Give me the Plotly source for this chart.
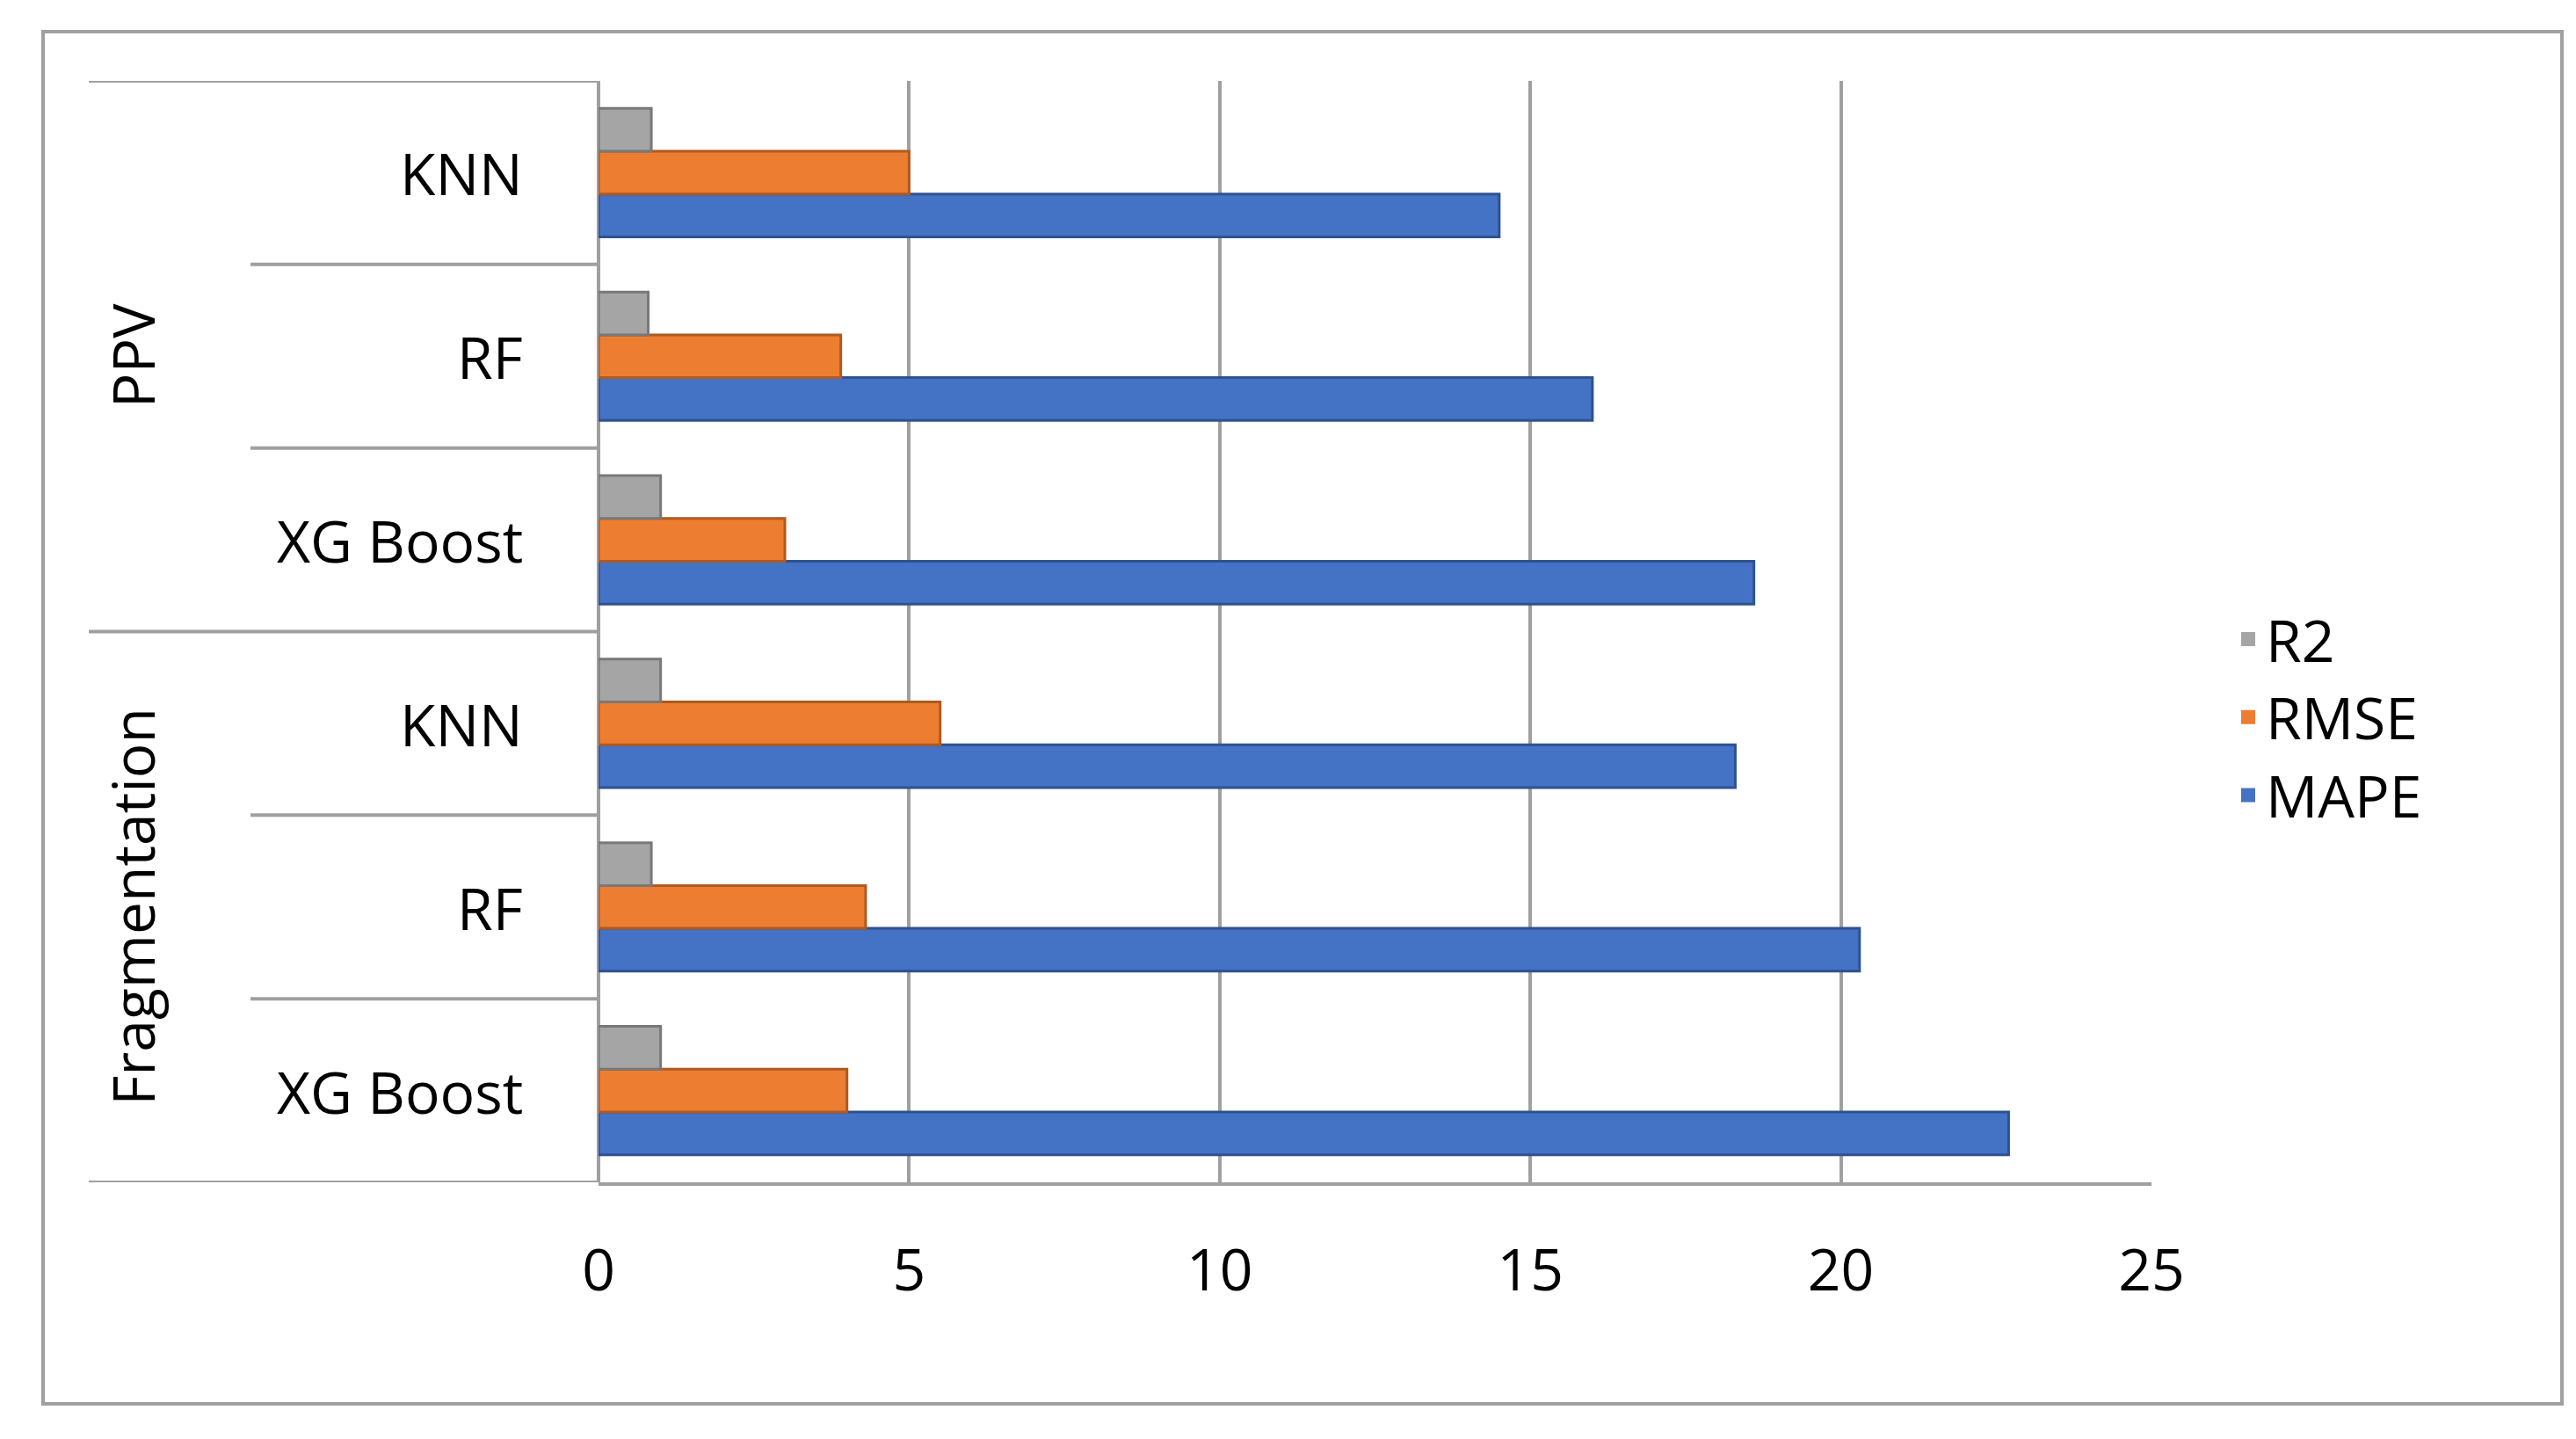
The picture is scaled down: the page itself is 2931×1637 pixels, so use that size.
import plotly.graph_objects as go

categories = ["F_XGB", "F_RF", "F_KNN", "P_XGB", "P_RF", "P_KNN"]
sub_labels = ["XG Boost", "RF", "KNN", "XG Boost", "RF", "KNN"]
groups = ["Fragmentation", "PPV"]
mape = [22.7, 20.3, 18.3, 18.6, 16.0, 14.5]
rmse = [4.0, 4.3, 5.5, 3.0, 3.9, 5.0]
r2 = [1.0, 0.85, 1.0, 1.0, 0.8, 0.85]

W, H = 2931, 1637
L, R, T, B = 673, 491, 84, 300
pw, ph = W - L - R, H - T - B
def px(x): return (x - L) / pw
def py(y): return (H - B - y) / ph

fig = go.Figure()
series = [("MAPE", mape, "#4472C4", "#2F528F"),
          ("RMSE", rmse, "#ED7D31", "#AE5A21"),
          ("R2", r2, "#A5A5A5", "#787878")]
for name, vals, col, edge in series:
    fig.add_trace(go.Bar(y=categories, x=vals, orientation="h", name=name, showlegend=False,
                         marker=dict(color=col, line=dict(color=edge, width=3))))
for name, vals, col, edge in series:
    fig.add_trace(go.Scatter(x=[None], y=[None], mode="markers", name=name, legendgroup=name,
                             marker=dict(symbol="square", size=44, color=col)))

font = dict(family="Open Sans", size=66, color="#000")
ann = []
for i, lab in enumerate(sub_labels):
    ann.append(dict(x=px(589), y=i, xref="paper", yref="y", text=lab, showarrow=False,
                    xanchor="right", font=font))
ann.append(dict(x=px(95), y=1, xref="paper", yref="y", text=groups[0], textangle=-90,
                showarrow=False, font=font))
ann.append(dict(x=px(95), y=4, xref="paper", yref="y", text=groups[1], textangle=-90,
                showarrow=False, font=font))

shapes = []
for yb in [-0.5, 0.5, 1.5, 2.5, 3.5, 4.5, 5.5]:
    x0 = px(93) if yb in (-0.5, 2.5, 5.5) else px(277)
    shapes.append(dict(type="line", xref="paper", yref="y", x0=x0, x1=0, y0=yb, y1=yb,
                       line=dict(color="#a0a0a0", width=4)))
shapes.append(dict(type="rect", xref="paper", yref="paper", x0=px(41), x1=px(2907),
                   y0=py(1589), y1=py(28), line=dict(color="#a0a0a0", width=4)))

fig.update_layout(
    width=W, height=H, margin=dict(l=L, r=R, t=T, b=B),
    plot_bgcolor="white", paper_bgcolor="white",
    barmode="group", bargap=0.3, bargroupgap=0,
    xaxis=dict(range=[0, 25], dtick=5, showgrid=True, gridcolor="#a0a0a0", gridwidth=4,
               zeroline=True, zerolinecolor="#a0a0a0", zerolinewidth=4,
               showline=True, linecolor="#a0a0a0", linewidth=4,
               tickfont=font, ticks="", ticklabelstandoff=40),
    yaxis=dict(categoryorder="array", categoryarray=categories, showticklabels=False,
               showline=False, showgrid=False, range=[-0.5, 5.5]),
    legend=dict(x=px(2530), y=py(808), yanchor="middle", xanchor="left",
                traceorder="reversed", font=font, tracegroupgap=60, itemwidth=30),
    annotations=ann, shapes=shapes, font=font,
)
fig.write_html("out.html")
